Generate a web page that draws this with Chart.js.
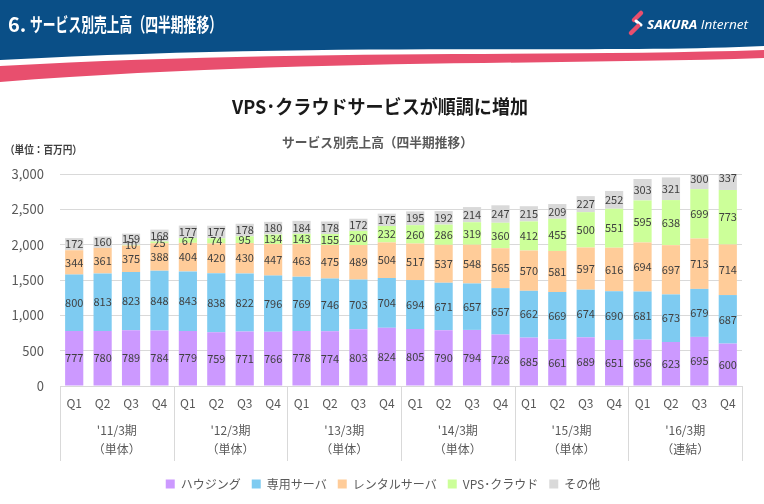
<!DOCTYPE html>
<html>
<head>
<meta charset="utf-8">
<script src="https://cdn.jsdelivr.net/npm/chart.js@4.4.1/dist/chart.umd.min.js"></script>
<style>
  html, body { margin: 0; padding: 0; background: #ffffff; }
  body { width: 764px; height: 504px; position: relative; overflow: hidden; font-family: 'Noto Sans CJK JP', sans-serif; }
  #deco { position: absolute; left: 0; top: 0; z-index: 2; pointer-events: none; }
  #wrap { position: absolute; left: 0; top: 150px; width: 764px; height: 354px; z-index: 1; }
</style>
</head>
<body>
<svg id="deco" width="764" height="170" xmlns="http://www.w3.org/2000/svg">
  <path d="M0,0 H764 V46 C600,54 330,42 0,60 Z" fill="#0a4f87"/>
  <path d="M0,66 C300,49 560,57 764,50 L764,58 C560,65 300,59 0,82 Z" fill="#e84f6e"/>
  <text x="8" y="32" fill="#ffffff" font-size="20" font-weight="bold" font-family="'Noto Sans CJK JP', sans-serif">6.</text>
  <text x="30" y="32" fill="#ffffff" font-size="19.5" font-weight="bold" font-family="'Noto Sans CJK JP', sans-serif" textLength="192" lengthAdjust="spacingAndGlyphs">サービス別売上高（四半期推移）</text>
  <g stroke-linecap="round" stroke-width="4.5">
    <line x1="641" y1="13" x2="634" y2="20" stroke="#e84f6e"/>
    <line x1="636" y1="21" x2="641" y2="25" stroke="#ffffff" stroke-width="3"/>
    <line x1="638" y1="26" x2="631" y2="33" stroke="#e84f6e"/>
  </g>
  <text x="647" y="29" fill="#ffffff" font-size="13" font-style="italic" font-family="'Open Sans', sans-serif" textLength="101" lengthAdjust="spacingAndGlyphs"><tspan font-weight="bold">SAKURA</tspan> Internet</text>
  <text x="232" y="114" fill="#1a1a1a" font-size="19" font-weight="bold" font-family="'Noto Sans CJK JP', sans-serif" textLength="296" lengthAdjust="spacingAndGlyphs">VPS･クラウドサービスが順調に増加</text>
  <text x="282" y="147" fill="#595959" font-size="13" font-weight="bold" font-family="'Noto Sans CJK JP', sans-serif" textLength="191" lengthAdjust="spacingAndGlyphs">サービス別売上高（四半期推移）</text>
  <text x="5" y="154" fill="#404040" font-size="11" font-weight="bold" font-family="'Noto Sans CJK JP', sans-serif" textLength="77" lengthAdjust="spacingAndGlyphs">（単位：百万円）</text>
</svg>
<div id="wrap"><canvas id="c" width="764" height="354"></canvas></div>
<script>
const quarters = ['Q1','Q2','Q3','Q4','Q1','Q2','Q3','Q4','Q1','Q2','Q3','Q4','Q1','Q2','Q3','Q4','Q1','Q2','Q3','Q4','Q1','Q2','Q3','Q4'];
const fiscalYears = ["'11/3期", "'12/3期", "'13/3期", "'14/3期", "'15/3期", "'16/3期"];
const entityTypes = ['（単体）', '（単体）', '（単体）', '（単体）', '（単体）', '（連結）'];
const seriesNames = ['ハウジング', '専用サーバ', 'レンタルサーバ', 'VPS･クラウド', 'その他'];
const housing   = [777,780,789,784, 779,759,771,766, 778,774,803,824, 805,790,794,728, 685,661,689,651, 656,623,695,600];
const dedicated = [800,813,823,848, 843,838,822,796, 769,746,703,704, 694,671,657,657, 662,669,674,690, 681,673,679,687];
const rental    = [344,361,375,388, 404,420,430,447, 463,475,489,504, 517,537,548,565, 570,581,597,616, 694,697,713,714];
const vpsCloud  = [0,0,10,25, 67,74,95,134, 143,155,200,232, 260,286,319,360, 412,455,500,551, 595,638,699,773];
const others    = [172,160,159,168, 177,177,178,180, 184,178,172,175, 195,192,214,247, 215,209,227,252, 303,321,300,337];
const yTicks = [0, 500, 1000, 1500, 2000, 2500, 3000];

const colors = ['#cc99ff', '#7ecbf1', '#ffcc99', '#ccff99', '#d9d9d9'];
const FONT = "'Noto Sans CJK JP', sans-serif";

const seriesData = [housing, dedicated, rental, vpsCloud, others];

const labelPlugin = {
  id: 'segLabels',
  afterDatasetsDraw(chart) {
    const ctx = chart.ctx;
    ctx.save();
    ctx.font = '11px ' + FONT;
    ctx.fillStyle = '#404040';
    ctx.textAlign = 'center';
    ctx.textBaseline = 'middle';
    chart.data.datasets.forEach((ds, di) => {
      const meta = chart.getDatasetMeta(di);
      meta.data.forEach((el, i) => {
        const v = ds.data[i];
        if (!v) return;
        const p = el.getProps(['x', 'y', 'base'], true);
        ctx.fillText(String(v), p.x, (p.y + p.base) / 2);
      });
    });
    ctx.restore();
  }
};

const groupPlugin = {
  id: 'groups',
  afterLayout(chart) {
    if (chart.legend) { chart.legend.left += 24; }
  },
  afterDraw(chart) {
    const ctx = chart.ctx;
    const xs = chart.scales.x;
    const area = chart.chartArea;
    const n = fiscalYears.length;
    const w = (xs.right - xs.left) / n;
    ctx.save();
    ctx.strokeStyle = '#d9d9d9';
    ctx.lineWidth = 1;
    for (let g = 0; g <= n; g++) {
      const x = Math.round(xs.left + g * w) + 0.5;
      ctx.beginPath();
      ctx.moveTo(x, area.bottom);
      ctx.lineTo(x, area.bottom + 75);
      ctx.stroke();
    }
    ctx.font = '12px ' + FONT;
    ctx.fillStyle = '#595959';
    ctx.textAlign = 'center';
    ctx.textBaseline = 'middle';
    for (let g = 0; g < n; g++) {
      const cx = xs.left + (g + 0.5) * w;
      ctx.fillText(fiscalYears[g], cx, area.bottom + 44);
      ctx.fillText(entityTypes[g], cx, area.bottom + 63);
    }
    ctx.restore();
  }
};

new Chart(document.getElementById('c'), {
  type: 'bar',
  data: {
    labels: quarters,
    datasets: seriesData.map((d, i) => ({
      label: seriesNames[i],
      data: d,
      backgroundColor: colors[i],
      borderWidth: 0,
      barPercentage: 0.64,
      categoryPercentage: 1.0
    }))
  },
  options: {
    responsive: false,
    maintainAspectRatio: false,
    animation: false,
    layout: { padding: { top: 24, right: 22, left: 0, bottom: 4 } },
    plugins: {
      legend: {
        position: 'bottom',
        labels: {
          boxWidth: 9,
          boxHeight: 9,
          padding: 11,
          color: '#595959',
          font: { family: FONT, size: 12 }
        }
      },
      tooltip: { enabled: false },
      title: { display: false }
    },
    scales: {
      x: {
        stacked: true,
        grid: { display: false, drawTicks: false },
        border: { display: false },
        ticks: { color: '#595959', font: { family: FONT, size: 12 }, padding: 10, maxRotation: 0, autoSkip: false },
        afterFit(scale) { scale.height = 81; }
      },
      y: {
        stacked: true,
        min: 0,
        max: 3000,
        afterBuildTicks(scale) { scale.ticks = yTicks.map(v => ({ value: v })); },
        grid: { color: '#d9d9d9', drawTicks: false },
        border: { display: false },
        ticks: {
          color: '#595959',
          font: { family: FONT, size: 13 },
          padding: 16,
          callback: v => Number(v).toLocaleString('en-US')
        },
        afterFit(scale) { scale.width = 60; }
      }
    }
  },
  plugins: [labelPlugin, groupPlugin]
});
</script>
</body>
</html>
